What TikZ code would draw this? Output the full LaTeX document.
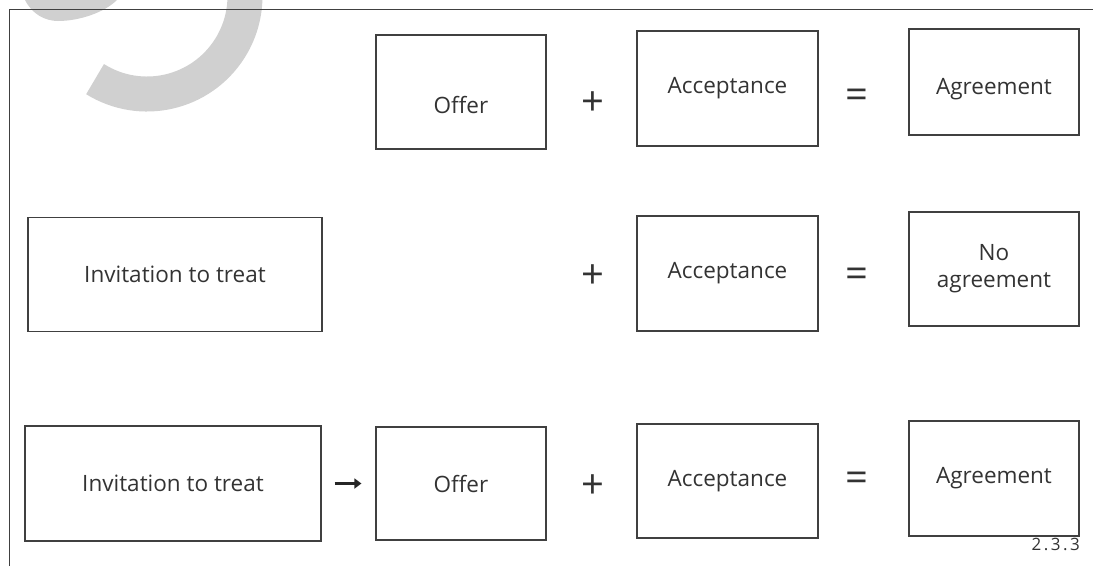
\documentclass[tikz,border=0pt]{standalone}
\usepackage{fontspec}
\setmainfont{Open Sans}
\usetikzlibrary{arrows.meta}
\definecolor{linegrey}{HTML}{404040}
\definecolor{textgrey}{HTML}{333333}
\definecolor{wmgrey}{HTML}{D0D0D0}
\tikzset{
  box/.style={draw=linegrey, line width=1.2pt, minimum width=#1, inner sep=0pt, align=center,
    font=\fontsize{22.5}{27}\selectfont, text=textgrey},
  op/.style={font=\fontsize{40}{40}\selectfont, text=textgrey, inner sep=0pt},
  frameline/.style={draw=linegrey, line width=1.3pt},
}
\begin{document}
\begin{tikzpicture}[x=1pt,y=-1pt]
\useasboundingbox (0,0) rectangle (1093,566);
% watermark
\fill[wmgrey] (25,0) .. controls (32,14) and (45,21) .. (58,21) .. controls (80,21) and (105,12) .. (117,0) -- cycle;
\draw[wmgrey, line width=35pt] (147,-4) ++(238:98pt) arc[start angle=238, end angle=400, radius=98pt];
% frame
\coordinate (fa) at (9.5,566);
\coordinate (fb) at (9.5,9.5);
\coordinate (fc) at (1093,9.5);
\draw[frameline] (fa) -- (fb) -- (fc);
% row 1
\node[box=170pt, minimum height=114pt] (offer1) at (461,92) {\raisebox{-21pt}[0pt][0pt]{Offer}};
\node[op] (plus1) at (593,104) {+};
\node[box=181pt, minimum height=115pt] (acc1) at (727.5,88.5) {Acceptance};
\node[op] (eq1) at (857,99) {=};
\node[box=170pt, minimum height=106pt] (agr1) at (994,82) {\raisebox{-12pt}[0pt][0pt]{Agreement}};
% row 2
\node[box=294pt, minimum height=114pt] (inv2) at (175,274.5) {Invitation to treat};
\node[op] (plus2) at (593,277) {+};
\node[box=181pt, minimum height=115pt] (acc2) at (727.5,273.5) {Acceptance};
\node[op] (eq2) at (857,278) {=};
\node[box=170pt, minimum height=114pt] (noagr) at (994,269) {No\\agreement};
% row 3
\node[box=296pt, minimum height=115pt] (inv3) at (173,483.5) {Invitation to treat};
\node[box=170pt, minimum height=113pt] (offer3) at (461,483.5) {Offer};
\node[op] (plus3) at (593,486.5) {+};
\node[box=181pt, minimum height=114pt] (acc3) at (727.5,481) {Acceptance};
\node[op] (eq3) at (857,482) {=};
\node[box=170pt, minimum height=115pt] (agr3) at (994,478.5) {Agreement};
\draw[draw=black!85, line width=3pt, -{Triangle[length=7pt,width=10pt]}] ([xshift=13pt]inv3.east) -- ([xshift=-14pt]offer3.west);
\node[anchor=north east, inner sep=0pt, font=\fontsize{17}{17}\selectfont, text=textgrey] (fig) at (1080,537.5) {2\kern2.5pt.\kern2.5pt3\kern2.5pt.\kern2.5pt3};
\end{tikzpicture}
\end{document}
